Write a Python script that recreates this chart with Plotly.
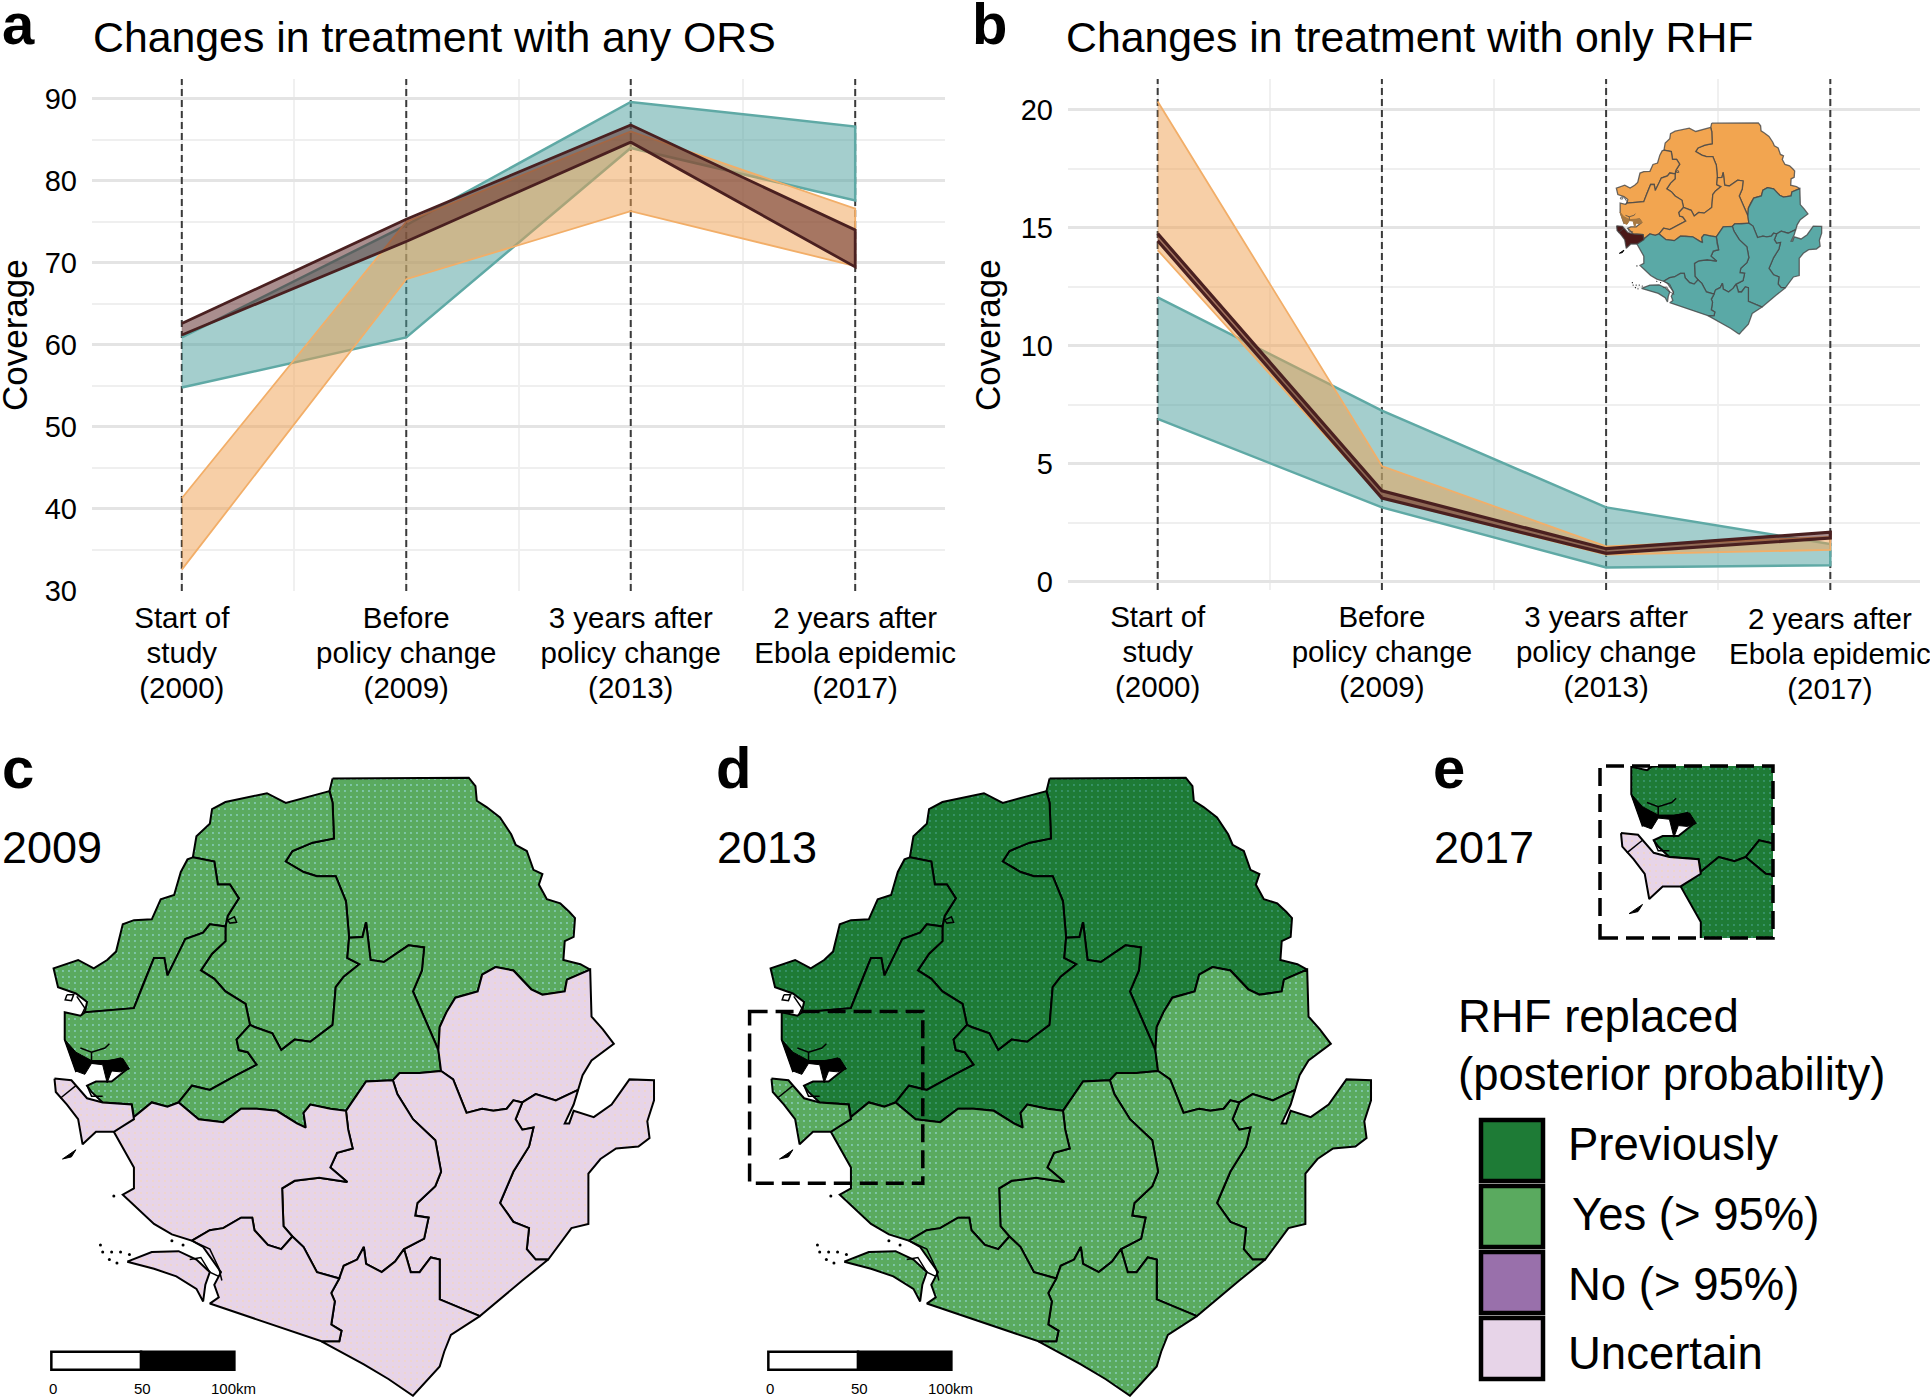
import plotly.graph_objects as go

W, H = 1930, 1397
FONT = "Liberation Sans"

# ---------- line panels ----------
TIME_POS = [1, 2, 3, 4]
TIME_LINES = [["Start of", "study", "(2000)"], ["Before", "policy change", "(2009)"],
              ["3 years after", "policy change", "(2013)"], ["2 years after", "Ebola epidemic", "(2017)"]]
TIME_LABELS = ["<br>".join('<span style="font-size:29.5px">%s</span>' % s for s in t) for t in TIME_LINES]
ORS_TEAL_HI = [60.9, 74.6, 89.6, 86.6]
ORS_TEAL_LO = [54.8, 60.9, 84.0, 77.6]
ORS_ORANGE_HI = [41.3, 75.0, 86.0, 76.6]
ORS_ORANGE_LO = [32.6, 68.0, 76.3, 69.6]
ORS_DARK_HI = [62.6, 75.3, 86.8, 74.0]
ORS_DARK_LO = [61.2, 72.6, 84.7, 69.5]
RHF_TEAL_HI = [12.05, 7.25, 3.15, 1.6]
RHF_TEAL_LO = [6.9, 3.15, 0.6, 0.7]
RHF_ORANGE_HI = [20.35, 4.9, 1.5, 1.9]
RHF_ORANGE_LO = [14.05, 3.55, 1.15, 1.35]
RHF_DARK_HI = [14.75, 3.85, 1.4, 2.1]
RHF_DARK_LO = [14.45, 3.55, 1.2, 1.85]

TEAL_LINE, TEAL_FILL = "#5FA9A5", "rgba(74,158,155,0.5)"
ORANGE_LINE, ORANGE_FILL = "#F2AE68", "rgba(240,160,80,0.5)"
DARK_LINE, DARK_FILL = "#4A2020", "rgba(85,30,30,0.5)"

KOINADUGU = [(745,92),(1050,90),(1065,110),(1068,145),(1090,160),(1120,185),(1145,225),(1155,250),(1180,265),(1195,310),(1215,320),(1207,345),(1225,380),(1255,390),(1275,410),(1288,425),(1285,470),(1265,480),(1262,525),(1300,535),(1322,548),(1270,572),(1265,600),(1215,608),(1190,595),(1150,550),(1110,542),(1080,560),(1070,600),(1020,615),(1000,650),(985,685),(982,740),(925,600),(945,550),(950,495),(915,490),(860,530),(830,525),(820,435),(812,470),(782,472),(775,385),(752,325),(710,325),(680,315),(640,290),(655,265),(700,245),(748,235),(745,150),(738,122)]
BOMBALI = [(738,122),(745,150),(748,235),(700,245),(655,265),(640,290),(680,315),(710,325),(752,325),(775,385),(782,472),(778,520),(805,535),(770,565),(752,590),(745,680),(695,720),(660,715),(630,740),(610,700),(570,685),(560,680),(550,630),(505,600),(480,570),(450,550),(475,510),(505,480),(505,445),(510,420),(535,378),(515,345),(488,345),(480,290),(432,280),(440,230),(470,200),(475,165),(505,148),(598,127),(640,150)]
KAMBIA = [(432,280),(480,290),(488,345),(515,345),(535,378),(510,420),(505,445),(470,440),(455,460),(415,475),(400,510),(375,562),(368,520),(345,520),(320,585),(300,640),(190,650),(195,625),(170,605),(130,590),(120,545),(175,525),(210,545),(240,525),(260,505),(275,440),(300,430),(340,428),(360,380),(390,370),(405,315),(420,285)]
PORT_LOKO = [(375,562),(400,510),(415,475),(455,460),(470,440),(505,445),(505,480),(475,510),(450,550),(480,570),(505,600),(550,630),(560,680),(530,715),(535,740),(555,745),(575,775),(530,800),(470,835),(430,825),(400,865),(375,875),(340,865),(300,900),(295,870),(230,865),(205,840),(195,825),(215,815),(250,815),(285,785),(270,760),(230,770),(200,770),(170,790),(145,715),(145,650),(180,658),(190,650),(300,640),(320,585),(345,520),(368,520)]
TONKOLILI = [(560,680),(570,685),(610,700),(630,740),(660,715),(695,720),(745,680),(752,590),(770,565),(805,535),(778,520),(782,472),(812,470),(820,435),(830,525),(860,530),(915,490),(950,495),(945,550),(925,600),(982,740),(988,790),(940,795),(895,795),(880,812),(820,815),(775,885),(740,880),(695,870),(680,890),(685,925),(665,915),(620,885),(575,880),(540,880),(500,912),(445,905),(400,865),(430,825),(470,835),(530,800),(575,775),(555,745),(535,740),(530,715)]
KONO = [(988,790),(982,740),(985,685),(1000,650),(1020,615),(1070,600),(1080,560),(1110,542),(1150,550),(1190,595),(1215,608),(1265,600),(1270,572),(1322,548),(1325,660),(1350,690),(1375,725),(1325,765),(1305,800),(1295,835),(1245,860),(1200,845),(1170,865),(1150,860),(1135,880),(1105,885),(1080,880),(1045,890),(1015,810)]
KAILAHUN = [(1170,865),(1200,845),(1245,860),(1295,835),(1285,870),(1265,915),(1275,915),(1285,885),(1330,900),(1370,870),(1410,810),(1465,812),(1465,860),(1450,910),(1455,950),(1430,970),(1380,975),(1345,1000),(1318,1035),(1318,1155),(1280,1165),(1228,1240),(1200,1240),(1180,1215),(1185,1165),(1150,1150),(1120,1105),(1150,1030),(1185,970),(1195,925),(1170,930),(1155,905)]
KENEMA = [(880,812),(895,795),(940,795),(988,790),(1015,810),(1045,890),(1080,880),(1105,885),(1135,880),(1150,860),(1170,865),(1155,905),(1170,930),(1195,925),(1185,970),(1150,1030),(1120,1105),(1150,1150),(1185,1165),(1180,1215),(1200,1240),(1228,1240),(1170,1290),(1075,1375),(985,1335),(985,1240),(965,1235),(940,1270),(920,1270),(905,1215),(950,1190),(960,1140),(930,1135),(935,1105),(975,1065),(988,1030),(975,955),(925,905),(890,845)]
BO = [(775,885),(820,815),(880,812),(890,845),(925,905),(975,955),(988,1030),(975,1065),(935,1105),(930,1135),(960,1140),(950,1190),(905,1215),(885,1245),(855,1270),(820,1250),(815,1210),(800,1240),(770,1255),(760,1285),(710,1270),(680,1210),(655,1185),(635,1160),(632,1070),(660,1052),(715,1045),(778,1055),(740,1020),(755,985),(790,975),(780,930)]
MOYAMBA = [(300,900),(340,865),(375,875),(400,865),(445,905),(500,912),(540,880),(575,880),(620,885),(665,915),(685,925),(680,890),(695,870),(740,880),(775,885),(780,930),(790,975),(755,985),(740,1020),(778,1055),(715,1045),(660,1052),(632,1070),(635,1160),(655,1185),(630,1215),(600,1205),(570,1170),(565,1140),(540,1140),(500,1165),(470,1170),(430,1195),(385,1180),(345,1155),(300,1110),(275,1085),(300,1070),(300,1020),(255,935)]
PUJEHUN = [(760,1285),(770,1255),(800,1240),(815,1210),(820,1250),(855,1270),(885,1245),(905,1215),(920,1270),(940,1270),(965,1235),(985,1240),(985,1335),(1075,1375),(1010,1420),(995,1460),(985,1495),(945,1540),(925,1565),(870,1525),(815,1490),(720,1435),(760,1435),(765,1410),(742,1395),(750,1340),(742,1320)]
BONTHE = [(430,1195),(470,1170),(500,1165),(540,1140),(565,1140),(570,1170),(600,1205),(630,1215),(655,1185),(680,1210),(710,1270),(760,1285),(742,1320),(750,1340),(742,1395),(765,1410),(760,1435),(720,1435),(470,1345),(490,1330),(480,1300),(495,1270),(455,1210)]
SHERBRO = [(285,1245),(340,1222),(400,1220),(440,1240),(470,1270),(460,1300),(455,1340),(440,1310),(395,1280),(345,1262)]
WESTERN = [(122,808),(160,812),(195,855),(230,865),(295,870),(300,905),(255,935),(215,935),(185,965),(175,905),(150,870),(125,840)]

MANGROVE = [(145,715),(170,745),(205,765),(240,765),(275,760),(290,785),(270,792),(250,790),(240,818),(230,775),(205,772),(190,798),(170,790)]
BANANA_ISLAND = [(140,1000),(170,978),(160,995)]
RIVER_LINES = [
    [(135,855),(170,825)],
    [(180,735),(205,745),(235,735),(245,725)],
    [(205,745),(205,765)],
    [(150,608),(165,608),(160,622),(146,620),(150,608)],
    [(172,612),(190,640),(182,658)],
    [(510,430),(525,422),(530,435),(515,437),(510,430)],
    [(195,825),(205,850),(230,850)],
    [(425,1240),(450,1235),(470,1270),(490,1280)],
    [(430,1195),(470,1215),(490,1260),(497,1290)],
]
ISLAND_X = [225, 230, 250, 270, 245, 262, 385, 410, 255, 290]
ISLAND_Y = [1205, 1222, 1222, 1222, 1240, 1248, 1195, 1205, 1088, 1228]

NORTH = {"Koinadugu": KOINADUGU, "Bombali": BOMBALI, "Kambia": KAMBIA, "Port Loko": PORT_LOKO, "Tonkolili": TONKOLILI}
SOUTH = {"Kono": KONO, "Kailahun": KAILAHUN, "Kenema": KENEMA, "Bo": BO, "Moyamba": MOYAMBA,
         "Pujehun": PUJEHUN, "Bonthe": BONTHE, "Sherbro": SHERBRO}

LEGEND_LABELS = ["Previously", "Yes (> 95%)", "No (> 95%)", "Uncertain"]
LEGEND_COLORS = ["#1E7B36", "#5AAA5F", "#9970AB", "#E7D4E8"]
PREV, YES, NO, UNC = LEGEND_COLORS
ORANGE_MAP, TEAL_MAP, MAROON_MAP = "#F2A550", "#5AA9A6", "#4A1818"
INSET_ESTUARY = "#A87840"
SCALE_KM = [0, 50, 100]
SCALE_UNITS = [115, 316, 525]
SCALE_TEXT = ["0", "50", "100km"]

def px(x): return x / W
def py(y): return 1 - y / H
def dom_x(a, b): return [px(a), px(b)]
def dom_y(top, bottom): return [py(bottom), py(top)]

fig = go.Figure()

def band(ax, hi, lo, line, fill, width):
    fig.add_trace(go.Scatter(x=TIME_POS + TIME_POS[::-1], y=hi + lo[::-1], mode="lines", fill="toself",
                             fillcolor=fill, line=dict(color=line, width=width), xaxis="x" + ax, yaxis="y" + ax,
                             showlegend=False, hoverinfo="skip"))

for ax, y0, y1, groups in [
    ("", 30, 92.4, [(ORS_TEAL_HI, ORS_TEAL_LO, TEAL_LINE, TEAL_FILL, 2.5), (ORS_ORANGE_HI, ORS_ORANGE_LO, ORANGE_LINE, ORANGE_FILL, 1.8), (ORS_DARK_HI, ORS_DARK_LO, DARK_LINE, DARK_FILL, 2.8)]),
    ("2", -0.35, 21.3, [(RHF_TEAL_HI, RHF_TEAL_LO, TEAL_LINE, TEAL_FILL, 2.5), (RHF_ORANGE_HI, RHF_ORANGE_LO, ORANGE_LINE, ORANGE_FILL, 1.8), (RHF_DARK_HI, RHF_DARK_LO, DARK_LINE, DARK_FILL, 3.2)]),
]:
    for t in TIME_POS:
        fig.add_trace(go.Scatter(x=[t, t], y=[y0, y1], mode="lines", line=dict(color="#3A3A3A", width=2, dash="7px,4px"),
                                 xaxis="x" + ax, yaxis="y" + ax, showlegend=False, hoverinfo="skip"))
    for g in groups:
        band(ax, *g)

def poly(ax, pts, fill, edge, lw, pattern=None):
    xs = [p[0] for p in pts] + [pts[0][0]]
    ys = [p[1] for p in pts] + [pts[0][1]]
    kw = {}
    if pattern:
        kw["fillpattern"] = dict(shape=".", bgcolor=fill, fgcolor=pattern, size=6, solidity=0.08, fillmode="replace")
    fig.add_trace(go.Scatter(x=xs, y=ys, mode="lines", fill="toself", fillcolor=fill,
                             line=dict(color=edge, width=lw), xaxis="x" + ax, yaxis="y" + ax,
                             showlegend=False, hoverinfo="skip", **kw))

PATTERN = {PREV: "#3F9A78", YES: "#8AD0C0", UNC: "#F2D6C4"}

def draw_map(ax, north, south, west, edge="black", lw=2.0, textured=True):
    for pts in NORTH.values():
        poly(ax, pts, north, edge, lw, PATTERN.get(north) if textured else None)
    for pts in SOUTH.values():
        poly(ax, pts, south, edge, lw, PATTERN.get(south) if textured else None)
    poly(ax, WESTERN, west, edge, lw, PATTERN.get(west) if textured else None)
    poly(ax, MANGROVE, "black" if textured else INSET_ESTUARY, "black" if textured else INSET_ESTUARY, 1)
    poly(ax, BANANA_ISLAND, "black", "black", 1)
    for seg in RIVER_LINES:
        fig.add_trace(go.Scatter(x=[p[0] for p in seg], y=[p[1] for p in seg], mode="lines",
                                 line=dict(color=edge, width=max(lw * 0.75, 0.7)), xaxis="x" + ax, yaxis="y" + ax,
                                 showlegend=False, hoverinfo="skip"))
    fig.add_trace(go.Scatter(x=ISLAND_X, y=ISLAND_Y, mode="markers", marker=dict(color="black", size=3 if textured else 1.2),
                             xaxis="x" + ax, yaxis="y" + ax, showlegend=False, hoverinfo="skip"))

draw_map("3", YES, UNC, UNC)
draw_map("4", PREV, YES, YES)
draw_map("5", ORANGE_MAP, TEAL_MAP, MAROON_MAP, edge="rgba(70,70,70,0.8)", lw=1.3, textured=False)
draw_map("6", PREV, PREV, UNC)

def line_axes(dx, dy, yrange, dtick, tick0, minor_tick0, minor_dtick, ticktext):
    xa = dict(domain=dx, range=[0.6, 4.4], tickmode="array", tickvals=TIME_POS, ticktext=ticktext, automargin=False,
              showline=False, zeroline=False, ticks="", gridcolor="#EEEEEE", gridwidth=1.5,
              tickfont=dict(family=FONT, size=27, color="black"), ticklabelstandoff=9,
              minor=dict(tickmode="array", tickvals=[1.5, 2.5, 3.5], showgrid=True, gridcolor="#F0F0F0", gridwidth=1.5))
    ya = dict(domain=dy, range=yrange, tickmode="linear", tick0=tick0, dtick=dtick, zeroline=False, showline=False, ticks="", automargin=False,
              gridcolor="#E4E4E4", gridwidth=3, tickfont=dict(family=FONT, size=29, color="black"), ticklabelstandoff=14,
              minor=dict(tick0=minor_tick0, dtick=minor_dtick, showgrid=True, gridcolor="#EFEFEF", gridwidth=1.5))
    return xa, ya

xa1, ya1 = line_axes(dom_x(92, 945), dom_y(79, 591), [30, 92.4], 10, 30, 35, 10, TIME_LABELS)
# the last label of panel b reaches the page edge, where plotly drops tick labels: it is drawn as an annotation below
xa2, ya2 = line_axes(dom_x(1068, 1920), dom_y(79, 590), [-0.35, 21.3], 5, 0, 2.5, 5, TIME_LABELS[:3] + [""])

def map_axes(left, top, width, height, xr=(0, 1568), yr=(1568, 0)):
    xa = dict(domain=dom_x(left, left + width), range=list(xr), visible=False, automargin=False)
    ya = dict(domain=dom_y(top, top + height), range=list(yr), visible=False, automargin=False)
    return xa, ya

xa3, ya3 = map_axes(0, 740, 700, 657)
xa4, ya4 = map_axes(717, 740, 700, 657)
xa5, ya5 = map_axes(1598, 110, 239.4, 224.7)
xa6, ya6 = map_axes(1599, 766, 174, 172, xr=(73, 461), yr=(1058, 648))

def label(x, baseline, s, size, bold=False, anchor="left", angle=0):
    return dict(x=px(x), y=py(baseline - 0.33 * size), xref="paper", yref="paper", text=("<b>%s</b>" % s) if bold else s,
                showarrow=False, xanchor=anchor, yanchor="middle", textangle=angle,
                font=dict(family=FONT, size=size, color="black"))

annotations = [
    label(0, 43, "a", 58, True), label(970, 43, "b", 58, True),
    label(0, 787, "c", 58, True), label(714, 787, "d", 58, True), label(1431, 787, "e", 58, True),
    label(91, 51, "Changes in treatment with any ORS", 42.8),
    label(1064, 51, "Changes in treatment with only RHF", 42.8),
    label(0, 862, "2009", 45), label(715, 862, "2013", 45), label(1432, 862, "2017", 45),
    label(1456, 1031.5, "RHF replaced", 45.5), label(1456, 1090, "(posterior probability)", 45.5),
    label(1566, 1159.5, LEGEND_LABELS[0], 45.5), label(1570, 1229.5, LEGEND_LABELS[1], 45.5),
    label(1566, 1299.5, LEGEND_LABELS[2], 45.5), label(1566, 1368.5, LEGEND_LABELS[3], 45.5),
    dict(x=4, y=py(600), xref="x2", yref="paper", text=TIME_LABELS[3], showarrow=False, xanchor="center", yanchor="top",
         font=dict(family=FONT, size=27, color="black")),
]
for x_c in (15, 988):
    annotations.append(dict(x=px(x_c), y=py(335), xref="paper", yref="paper", text="Coverage", showarrow=False,
                            textangle=-90, xanchor="center", yanchor="middle",
                            font=dict(family=FONT, size=35, color="black")))

shapes = []
for ax in ("3", "4"):
    shapes.append(dict(type="rect", xref="x" + ax, yref="y" + ax, x0=SCALE_UNITS[0], x1=SCALE_UNITS[1], y0=1460, y1=1503,
                       fillcolor="white", line=dict(color="black", width=2.5)))
    shapes.append(dict(type="rect", xref="x" + ax, yref="y" + ax, x0=SCALE_UNITS[1], x1=SCALE_UNITS[2], y0=1460, y1=1503,
                       fillcolor="black", line=dict(color="black", width=2.5)))
    for u, t in zip(SCALE_UNITS, SCALE_TEXT):
        annotations.append(dict(x=u + (3 if t != "100km" else -3), y=1548, xref="x" + ax, yref="y" + ax, text=t, showarrow=False,
                                xanchor="center", yanchor="middle", font=dict(family=FONT, size=15, color="black")))

DASH = dict(color="black", width=3.5, dash="18px,8px")
shapes.append(dict(type="rect", xref="x4", yref="y4", x0=73, x1=461, y0=648, y1=1058, line=DASH, fillcolor="rgba(0,0,0,0)"))
shapes.append(dict(type="rect", xref="paper", yref="paper", x0=px(1600), x1=px(1773), y0=py(938), y1=py(766), line=DASH, fillcolor="rgba(0,0,0,0)"))

BOX_TOPS = [1120, 1186, 1252, 1318]
for top, col in zip(BOX_TOPS, LEGEND_COLORS):
    shapes.append(dict(type="rect", xref="paper", yref="paper", x0=px(1481), x1=px(1543), y0=py(top + 61), y1=py(top),
                       fillcolor=col, line=dict(color="black", width=4.5)))

fig.update_layout(
    width=W, height=H, autosize=False, margin=dict(l=0, r=0, t=0, b=0, pad=0, autoexpand=False),
    paper_bgcolor="white", plot_bgcolor="rgba(0,0,0,0)", showlegend=False,
    xaxis=xa1, yaxis=ya1, xaxis2={**xa2, "anchor": "y2"}, yaxis2={**ya2, "anchor": "x2"},
    xaxis3={**xa3, "anchor": "y3"}, yaxis3={**ya3, "anchor": "x3"},
    xaxis4={**xa4, "anchor": "y4"}, yaxis4={**ya4, "anchor": "x4"},
    xaxis5={**xa5, "anchor": "y5"}, yaxis5={**ya5, "anchor": "x5"},
    xaxis6={**xa6, "anchor": "y6"}, yaxis6={**ya6, "anchor": "x6"},
    annotations=annotations, shapes=shapes,
)

fig.write_html("out.html", config={"displayModeBar": False},
               post_script="document.body.style.margin='0';document.body.style.overflow='hidden';")
